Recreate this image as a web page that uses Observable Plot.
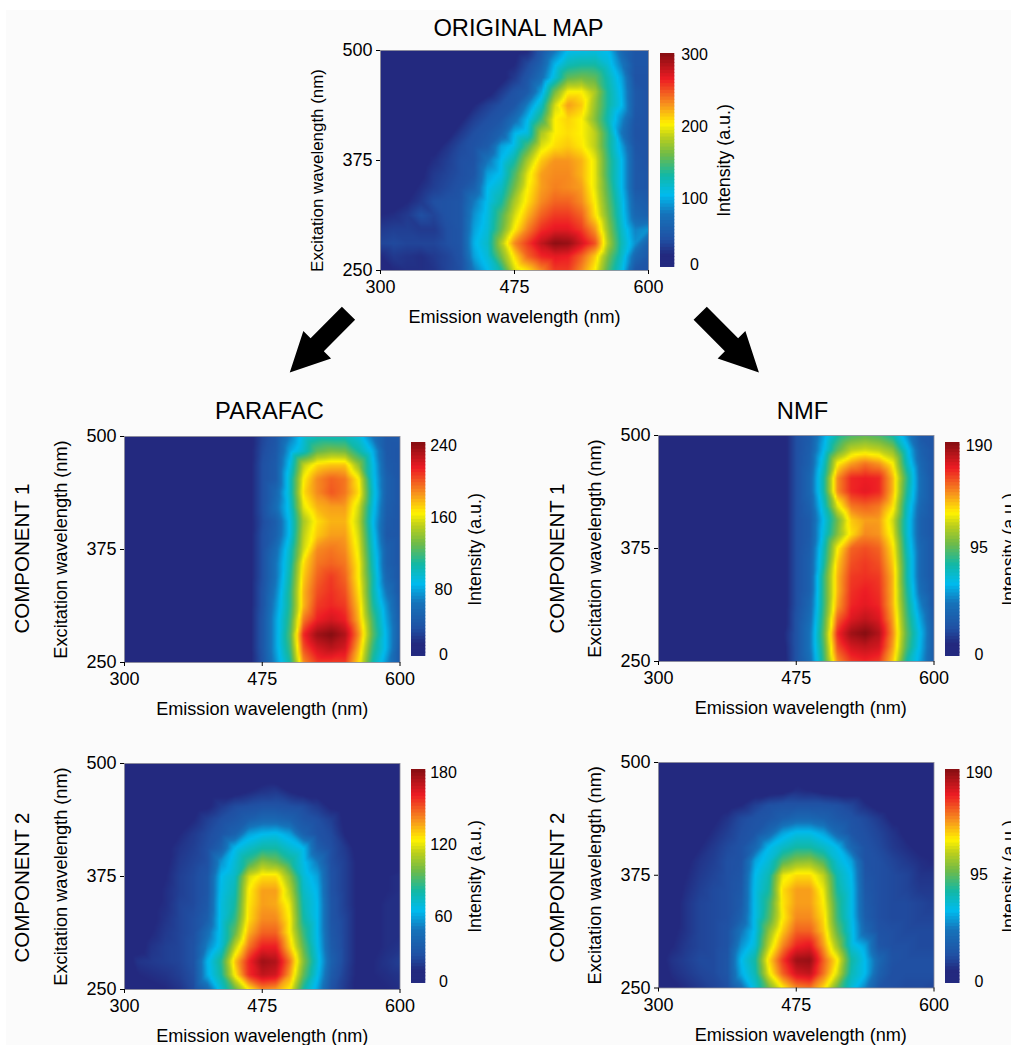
<!DOCTYPE html>
<html>
<head>
<meta charset="utf-8">
<script src="https://cdn.jsdelivr.net/npm/d3@7"></script>
<script src="https://cdn.jsdelivr.net/npm/@observablehq/plot@0.6"></script>
<style>
html,body{margin:0;padding:0;background:#fff;overflow:hidden}
#page{position:relative;width:1011px;height:1045px;overflow:hidden;background:#fff}
#paper{position:absolute;left:6px;top:10px;right:0;bottom:0;background:#fbfbfb}
#page svg{position:absolute;background:transparent}
</style>
</head>
<body>
<div id="page"><div id="paper"></div></div>
<script>
// Wavelength grid of all maps (nm)
const emission = [300,317.5,335,352.5,370,387.5,405,422.5,440,457.5,475,487.5,500,512.5,525,537.5,550,562.5,575,587.5,600];
const excitation = [500,484,469,453,438,422,406,391,375,359,344,328,313,297,281,266,250];

// Intensity in % of each colour range; rows run from 500 nm down to 250 nm
const originalMap = [
[3,3,3,3,3,3,3,3,3,3,3,5,14,24,33,34,35,33,20,14,14],
[3,3,3,3,3,3,3,3,3,3,5,11,18,32,40,42,42,36,25,14,14],
[3,3,3,3,3,3,3,3,3,3,8,14,22,36,50,52,50,40,30,13,13],
[3,3,3,3,3,3,3,3,3,8,13,16,30,52,66,66,58,42,32,15,13],
[3,3,3,3,3,3,3,5,9,12,14,26,38,62,74,70,56,42,33,15,13],
[3,3,3,3,3,3,4,9,12,14,22,33,46,66,69,66,54,40,27,14,13],
[3,3,3,3,3,3,8,12,14,18,32,36,58,66,68,66,60,44,24,13,13],
[3,3,3,3,3,7,11,13,16,30,35,48,63,68,70,67,60,44,30,14,13],
[3,3,3,3,6,9,12,13,24,33,42,58,70,75,75,72,64,46,33,15,13],
[3,3,3,4,8,10,12,14,30,34,48,64,74,76,76,72,64,46,33,15,14],
[2,2,3,6,9,11,13,18,33,38,52,66,74,77,76,74,64,48,33,15,14],
[2,3,5,8,12,13,14,25,34,42,58,68,76,80,80,76,66,50,35,18,16],
[5,6,8,12,10,13,14,28,35,48,62,72,80,84,84,80,68,52,36,20,18],
[8,9,9,8,8,12,14,30,36,50,66,77,85,88,88,84,75,55,38,26,28],
[10,11,10,10,10,12,14,32,38,58,76,84,92,98,97,90,82,58,40,28,18],
[5,8,7,6,8,10,13,30,36,52,68,80,86,88,87,80,70,52,38,20,15],
[5,5,6,6,7,10,12,25,33,42,62,68,76,84,84,76,66,48,35,14,13]
];
const parafacComponent1 = [
[2,2,2,2,2,2,2,2,2,3,10,14,25,36,40,40,40,36,24,15,15],
[2,2,2,2,2,2,2,2,2,3,11,15,30,38,50,53,52,42,32,15,14],
[2,2,2,2,2,2,2,2,2,3,12,16,34,60,68,70,70,55,35,16,14],
[2,2,2,2,2,2,2,2,2,3,12,16,38,66,76,80,78,66,36,18,14],
[2,2,2,2,2,2,2,2,2,3,12,20,38,68,76,81,78,68,38,18,14],
[2,2,2,2,2,2,2,2,2,3,12,22,36,64,72,74,74,62,36,17,14],
[2,2,2,2,2,2,2,2,2,3,11,17,34,58,68,72,72,60,34,16,14],
[2,2,2,2,2,2,2,2,2,3,12,18,34,60,70,74,74,62,36,15,14],
[2,2,2,2,2,2,2,2,2,3,12,22,38,62,76,78,76,64,38,18,14],
[2,2,2,2,2,2,2,2,2,3,12,24,40,68,78,80,78,66,40,18,14],
[2,2,2,2,2,2,2,2,2,3,12,24,42,70,80,84,80,66,42,20,14],
[2,2,2,2,2,2,2,2,2,3,13,26,44,72,82,85,82,68,42,24,14],
[2,2,2,2,2,2,2,2,2,3,13,28,44,72,84,86,84,70,44,28,15],
[2,2,2,2,2,2,2,2,2,3,14,30,46,78,87,90,87,72,48,30,16],
[2,2,2,2,2,2,2,2,2,3,14,30,48,86,96,99,94,76,50,32,16],
[2,2,2,2,2,2,2,2,2,3,14,30,46,82,90,93,90,72,46,32,15],
[2,2,2,2,2,2,2,2,2,3,13,28,42,76,84,84,84,68,42,28,15]
];
const nmfComponent1 = [
[2,2,2,2,2,2,2,2,2,2,12,16,30,42,48,50,48,42,28,15,14],
[2,2,2,2,2,2,2,2,2,2,12,17,33,50,60,62,60,55,36,18,14],
[2,2,2,2,2,2,2,2,2,2,12,18,38,66,74,78,75,66,40,20,14],
[2,2,2,2,2,2,2,2,2,2,12,20,42,76,86,87,86,72,46,22,14],
[2,2,2,2,2,2,2,2,2,2,12,20,42,76,86,88,86,72,44,22,14],
[2,2,2,2,2,2,2,2,2,2,12,18,38,64,78,80,78,68,40,20,14],
[2,2,2,2,2,2,2,2,2,2,12,16,34,52,70,74,74,62,38,18,14],
[2,2,2,2,2,2,2,2,2,2,12,16,36,54,68,76,75,64,38,18,14],
[2,2,2,2,2,2,2,2,2,2,12,17,40,66,80,82,80,68,40,20,14],
[2,2,2,2,2,2,2,2,2,2,12,18,42,70,82,84,82,70,42,20,14],
[2,2,2,2,2,2,2,2,2,2,12,18,46,72,84,85,84,72,42,20,14],
[2,2,2,2,2,2,2,2,2,2,12,18,46,72,85,87,85,72,44,22,14],
[2,2,2,2,2,2,2,2,2,2,12,20,46,74,86,88,86,72,46,26,14],
[2,2,2,2,2,2,2,2,2,2,13,22,48,80,89,92,89,74,48,30,15],
[2,2,2,2,2,2,2,2,2,4,13,24,50,86,96,99,94,76,50,33,16],
[2,2,2,2,2,2,2,2,2,3,13,24,48,82,90,92,90,74,48,32,16],
[2,2,2,2,2,2,2,2,2,2,13,22,46,76,84,86,84,70,42,30,16]
];
const parafacComponent2 = [
[2,2,2,2,2,2,2,2,2,2,2,2,2,2,2,2,2,2,2,2,2],
[3,3,3,3,3,3,3,3,3,3,3,3,3,3,3,3,3,3,3,3,3],
[3,3,3,3,3,3,3,3,3,5,7,8,5,3,3,3,3,3,3,3,3],
[3,3,3,3,3,3,4,8,11,12,13,13,12,11,8,4,3,3,3,3,3],
[3,3,3,3,3,5,9,12,14,17,20,20,18,14,12,9,4,3,3,3,3],
[3,3,3,3,5,8,11,14,18,30,33,34,30,18,13,11,5,3,3,3,3],
[2,2,3,4,7,9,12,18,33,38,42,42,37,33,17,12,8,3,3,3,3],
[2,2,3,4,8,10,12,28,36,46,55,52,44,34,25,12,9,4,3,3,4],
[2,2,3,5,9,11,14,33,38,62,68,68,55,36,30,13,9,4,4,5,6],
[2,2,3,6,9,11,14,34,40,66,74,74,60,38,32,13,9,4,3,5,6],
[2,2,4,6,10,11,15,35,42,67,74,73,64,40,33,14,9,4,4,6,6],
[2,2,4,7,10,12,17,35,45,68,76,76,66,42,33,14,10,4,4,6,6],
[2,2,5,8,10,12,22,35,50,72,80,80,66,46,33,15,10,4,4,6,6],
[2,3,7,9,10,13,26,36,60,78,87,87,70,50,34,16,10,4,4,6,7],
[2,7,8,9,10,13,32,44,70,86,96,94,78,54,36,18,10,4,5,7,9],
[2,5,6,7,9,12,31,42,66,85,92,90,74,50,34,16,9,4,5,6,7],
[2,3,4,5,7,11,20,36,50,66,76,74,66,42,30,13,8,4,4,5,6]
];
const nmfComponent2 = [
[2,2,2,2,2,2,2,2,2,2,2,2,2,2,2,2,2,2,2,2,2],
[2,2,2,2,2,2,2,2,2,2,3,3,2,2,2,2,2,2,2,2,2],
[2,2,2,2,2,2,2,2,2,3,6,5,3,2,2,2,2,2,2,2,2],
[2,2,2,2,2,3,5,9,12,13,13,13,13,12,10,6,3,2,2,2,2],
[2,2,2,2,4,7,11,13,14,17,20,20,18,15,13,11,8,4,3,2,2],
[2,2,2,3,6,9,12,14,20,30,34,34,30,20,14,12,10,7,4,3,2],
[2,2,3,5,8,11,13,20,33,38,42,42,38,33,20,13,11,8,6,4,3],
[2,2,4,7,9,12,13,30,36,48,54,55,48,36,30,13,12,10,8,6,5],
[2,2,5,8,10,12,14,33,40,64,68,68,60,40,33,14,12,11,10,7,7],
[2,2,6,9,11,12,15,34,42,68,74,74,64,42,34,15,12,11,10,8,8],
[2,3,7,10,11,12,16,34,46,67,74,74,66,45,34,16,12,11,11,10,9],
[2,3,7,10,11,12,18,34,48,66,76,76,68,46,34,17,12,11,11,10,10],
[2,4,7,10,11,13,24,34,55,70,80,80,70,50,35,20,13,12,11,11,11],
[2,5,8,10,11,13,28,36,60,76,86,88,74,56,36,30,14,12,12,11,11],
[3,7,9,11,11,14,33,42,68,84,96,97,80,66,42,33,20,13,12,12,12],
[2,6,8,10,11,14,31,40,64,80,90,92,78,62,40,33,18,12,12,12,12],
[2,4,6,8,10,12,22,36,52,66,76,78,68,50,36,26,14,12,11,11,10]
];

// Colour ramp of the reference
const rampStops = [0,.05,.12,.24,.33,.42,.52,.6,.66,.75,.87,1];
const rampColors = ["#23297f","#23297f","#2050a3","#1673ba","#00bbee","#12b8a6","#72bb46","#bccf1c","#fff200","#f7941d","#ed1c24","#7c0c10"];

const emissionTicks = [300,475,600];
const excitationTicks = [250,375,500];
const FONT = '"Liberation Sans", Arial, sans-serif';

const panels = [
  {grid:originalMap, max:300, ticks:[0,100,200,300], tickAt:[.014,.322,.659,.995], fx:380,fy:49.5,fw:268,fh:220, bx:660,bw:14.3,by:53,bh:214, tickDx:19.7, yLab:16.9, yLabDy:10, xLabDx:0},
  {grid:parafacComponent1, max:240, ticks:[0,80,160,240], tickAt:[.006,.312,.65,.986], fx:124,fy:435.5,fw:275.5,fh:226, bx:410.7,bw:14.3,by:441.7,bh:214, tickDx:17.7, yLab:18.2, yLabDy:0, xLabDx:0},
  {grid:nmfComponent1, max:190, ticks:[0,95,190], tickAt:[.008,.509,.986], fx:658,fy:435,fw:275.5,fh:226, bx:944.5,bw:14.5,by:441.7,bh:214, tickDx:19, yLab:18.2, yLabDy:0, xLabDx:4.5},
  {grid:parafacComponent2, max:180, ticks:[0,60,120,180], tickAt:[.006,.311,.647,.986], fx:124,fy:762.5,fw:275.5,fh:226, bx:410.7,bw:14.3,by:768.7,bh:214, tickDx:17.7, yLab:18.2, yLabDy:0, xLabDx:0},
  {grid:nmfComponent2, max:190, ticks:[0,95,190], tickAt:[.008,.509,.986], fx:658,fy:762,fw:275.5,fh:225.5, bx:944.5,bw:14.5,by:768.7,bh:214, tickDx:19, yLab:18.2, yLabDy:0, xLabDx:4.5}
];

const page = document.getElementById("page");
function place(svg, left, top) {
  svg.style.left = left + "px";
  svg.style.top = top + "px";
  svg.style.overflow = "visible";
  page.appendChild(svg);
}

// Titles, row labels and the two arrows live in one page-sized plot
const titles = [
  {t:"ORIGINAL MAP", x:518, y:28},
  {t:"PARAFAC", x:269, y:411},
  {t:"NMF", x:802, y:411}
];
const rowLabels = [
  {t:"COMPONENT 1", x:22, y:558},
  {t:"COMPONENT 2", x:22, y:887},
  {t:"COMPONENT 1", x:557, y:558},
  {t:"COMPONENT 2", x:557, y:887}
];
const arrows = [
  {x:348, y:312.7, angle:224.7},
  {x:699.7, y:312.7, angle:135.3}
];
const blockArrow = {
  draw(c, l) {
    const shaft = 9.3, wing = 19.5, head = 39;
    c.moveTo(-shaft, 0);
    c.lineTo(shaft, 0);
    c.lineTo(shaft, -(l - head));
    c.lineTo(wing, -(l - head));
    c.lineTo(0, -l);
    c.lineTo(-wing, -(l - head));
    c.lineTo(-shaft, -(l - head));
    c.closePath();
  }
};
place(Plot.plot({
  width:1011, height:1045, margin:0,
  style:{background:"transparent", fontFamily:FONT},
  x:{domain:[0,1011], axis:null},
  y:{domain:[1045,0], axis:null},
  marks:[
    Plot.vector(arrows, {x:"x", y:"y", rotate:"angle", length:83.5, anchor:"start", shape:blockArrow, fill:"black", stroke:"none"}),
    Plot.text(titles, {x:"x", y:"y", text:"t", fontSize:23.7, fill:"black"}),
    Plot.text(rowLabels, {x:"x", y:"y", text:"t", rotate:-90, fontSize:20.5, fill:"black"})
  ]
}), 0, 0);

for (const p of panels) {
  const points = p.grid.flatMap((row, j) => row.map((v, i) => ({x:emission[i], y:excitation[j], v:v * p.max / 100})));
  const colorScale = {type:"linear", domain:rampStops.map(s => s * p.max), range:rampColors};
  const ml = 100, mr = 20, mt = 20, mb = 60;
  place(Plot.plot({
    width:p.fw + ml + mr, height:p.fh + mt + mb,
    marginLeft:ml, marginRight:mr, marginTop:mt, marginBottom:mb,
    style:{background:"transparent", fontFamily:FONT, color:"black"},
    x:{type:"linear", domain:[300,475,600], axis:null},
    y:{type:"linear", domain:[250,500], axis:null},
    color:colorScale,
    marks:[
      Plot.raster(points, {x:"x", y:"y", fill:"v", interpolate:"barycentric", pixelSize:2}),
      Plot.frame({stroke:"#8b8b98", strokeWidth:0.8}),
      Plot.axisX({ticks:emissionTicks, tickSize:4, tickPadding:6, fontSize:18, label:null, tickFormat:String}),
      Plot.axisY({ticks:excitationTicks, tickSize:4, tickPadding:4, fontSize:18, label:null, tickFormat:String}),
      Plot.text(["Emission wavelength (nm)"], {frameAnchor:"bottom", lineAnchor:"middle", dx:p.xLabDx, dy:47, fontSize:18.1, fill:"black"}),
      Plot.text(["Excitation wavelength (nm)"], {frameAnchor:"left", textAnchor:"middle", dx:-63, dy:p.yLabDy, rotate:-90, fontSize:p.yLab, fill:"black"})
    ]
  }), p.fx - ml, p.fy - mt);

  // Colour bar
  const levels = d3.range(64).map(i => i / 64);
  const barTop = 4, barBottom = 4;
  place(Plot.plot({
    width:p.bw + 90, height:p.bh + barTop + barBottom,
    marginLeft:0, marginRight:90, marginTop:barTop, marginBottom:barBottom,
    style:{background:"transparent", fontFamily:FONT, color:"black"},
    x:{domain:[0,1], axis:null},
    y:{domain:[0,1], axis:null},
    color:{type:"linear", domain:rampStops, range:rampColors},
    marks:[
      Plot.rect(levels, {x1:0, x2:1, y1:d => d, y2:d => Math.min(1, d + 1.3 / 64), fill:d => d}),
      Plot.text(p.ticks, {x:1, y:(d, i) => p.tickAt[i], text:String, dx:p.tickDx, fontSize:16, fill:"black"}),
      Plot.text(["Intensity (a.u.)"], {x:1, y:0.5, dx:49.7, rotate:-90, fontSize:17.8, fill:"black"})
    ]
  }), p.bx, p.by - barTop);
}
</script>
</body>
</html>
